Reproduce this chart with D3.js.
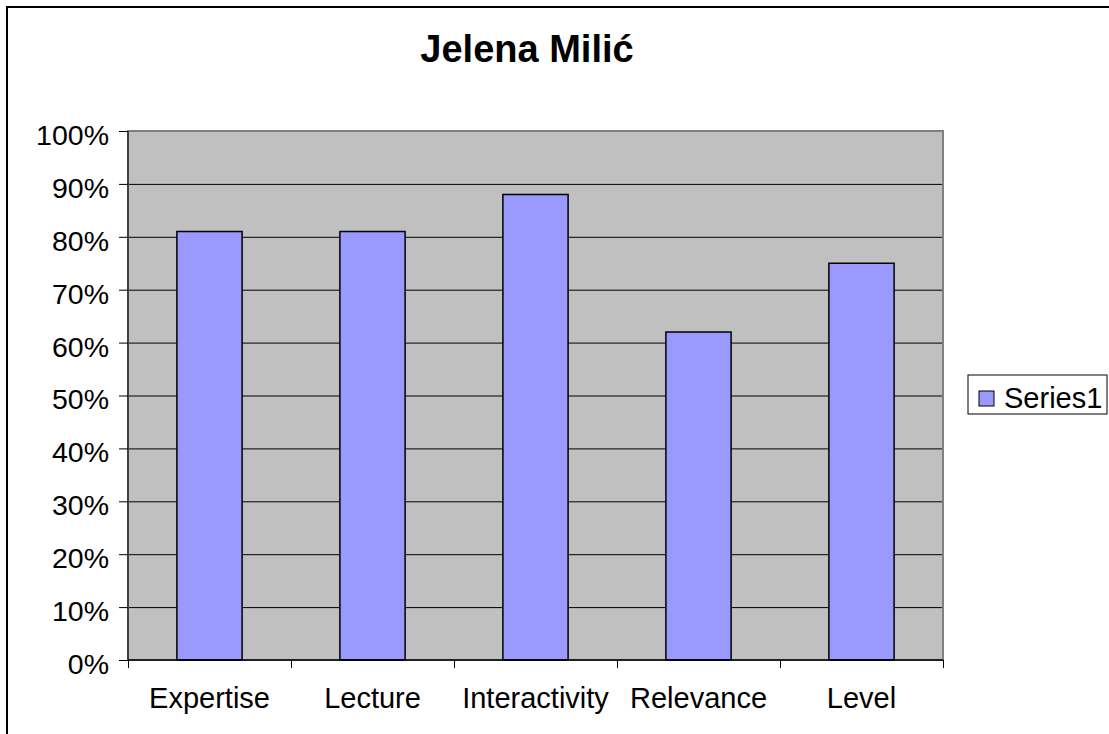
<!DOCTYPE html>
<html>
<head>
<meta charset="utf-8">
<script src="https://cdn.jsdelivr.net/npm/d3@7"></script>
<style>
  body { margin: 0; background: #fff; }
  svg { display: block; font-family: "Liberation Sans", Arial, sans-serif; }
  .axis path { display: none; }
  .axis line { stroke: #000; }
</style>
</head>
<body>
<div class="chart"></div>
<script>
const title = "Jelena Milić";
const categories = ["Expertise", "Lecture", "Interactivity", "Relevance", "Level"];
const values = [0.81, 0.81, 0.88, 0.62, 0.75];
const yTicks = [0, 0.1, 0.2, 0.3, 0.4, 0.5, 0.6, 0.7, 0.8, 0.9, 1.0];
const seriesName = "Series1";

const W = 1109, H = 734;
const plot = {left: 128, top: 131, right: 943, bottom: 660};

let svg = d3.select('.chart')
  .append('svg')
  .attr('width', W)
  .attr('height', H);

// outer chart border (only left and top fall inside the picture)
svg.append('rect')
  .attr('x', 7).attr('y', 7)
  .attr('width', 1300).attr('height', 900)
  .attr('fill', '#fff')
  .attr('stroke', '#000')
  .attr('stroke-width', 2);

// scales
let x = d3.scaleBand()
  .domain(categories)
  .range([plot.left, plot.right])
  .paddingInner(0.6)
  .paddingOuter(0.3);

let xEdges = d3.scaleLinear()
  .domain([0, categories.length])
  .range([plot.left, plot.right]);

let y = d3.scaleLinear()
  .domain([0, 1])
  .range([plot.bottom, plot.top]);

// plot area
svg.append('rect')
  .attr('x', plot.left).attr('y', plot.top)
  .attr('width', plot.right - plot.left)
  .attr('height', plot.bottom - plot.top)
  .attr('fill', '#c0c0c0');

// gridlines
svg.append('g')
  .attr('class', 'axis grid')
  .attr('transform', 'translate(' + plot.left + ',0)')
  .call(d3.axisLeft(y)
    .tickValues(yTicks.filter(d => d > 0 && d < 1))
    .tickSize(-(plot.right - plot.left))
    .tickFormat(''))
  .selectAll('line')
  .attr('stroke', '#000');

// plot border (gray top and right)
svg.append('rect')
  .attr('x', plot.left).attr('y', plot.top)
  .attr('width', plot.right - plot.left)
  .attr('height', plot.bottom - plot.top)
  .attr('fill', 'none')
  .attr('stroke', '#808080')
  .attr('stroke-width', 2);

// bars
svg.selectAll('rect.bar')
  .data(values)
  .enter()
  .append('rect')
  .attr('class', 'bar')
  .attr('x', (d, i) => x(categories[i]))
  .attr('y', d => y(d))
  .attr('width', x.bandwidth())
  .attr('height', d => y(0) - y(d))
  .attr('fill', '#9999ff')
  .attr('stroke', '#000')
  .attr('stroke-width', 1.5);

// y axis
let yAxis = svg.append('g')
  .attr('class', 'axis')
  .attr('transform', 'translate(' + plot.left + ',0)')
  .call(d3.axisLeft(y)
    .tickValues(yTicks)
    .tickFormat(d3.format('.0%'))
    .tickSize(9)
    .tickPadding(10));
yAxis.selectAll('text')
  .attr('dy', '0.47em')
  .style('font-size', '28.5px')
  .attr('fill', '#000');

svg.append('line')
  .attr('x1', plot.left).attr('x2', plot.left)
  .attr('y1', plot.top).attr('y2', plot.bottom)
  .attr('stroke', '#000');

// x axis: boundary ticks + category labels
svg.append('g')
  .attr('class', 'axis')
  .attr('transform', 'translate(0,' + plot.bottom + ')')
  .call(d3.axisBottom(xEdges)
    .tickValues(d3.range(categories.length + 1))
    .tickFormat('')
    .tickSize(8));

let xAxis = svg.append('g')
  .attr('class', 'axis')
  .attr('transform', 'translate(0,' + plot.bottom + ')')
  .call(d3.axisBottom(x).tickSize(0).tickPadding(27));
xAxis.selectAll('text')
  .style('font-size', '29px')
  .attr('fill', '#000');

svg.append('line')
  .attr('x1', plot.left).attr('x2', plot.right)
  .attr('y1', plot.bottom).attr('y2', plot.bottom)
  .attr('stroke', '#000')
  .attr('stroke-width', 1.5);

// title
svg.append('text')
  .attr('x', 527)
  .attr('y', 62)
  .attr('text-anchor', 'middle')
  .style('font-size', '38px')
  .style('font-weight', 'bold')
  .text(title);

// legend
let legend = svg.append('g')
  .attr('transform', 'translate(968,375)');

legend.append('rect')
  .attr('width', 139)
  .attr('height', 39)
  .attr('fill', '#fff')
  .attr('stroke', '#000')
  .attr('stroke-width', 1);

legend.append('rect')
  .attr('x', 11).attr('y', 16)
  .attr('width', 15).attr('height', 15)
  .attr('fill', '#9999ff')
  .attr('stroke', '#000')
  .attr('stroke-width', 1);

legend.append('text')
  .attr('x', 36)
  .attr('y', 33)
  .style('font-size', '29px')
  .text(seriesName);
</script>
</body>
</html>
